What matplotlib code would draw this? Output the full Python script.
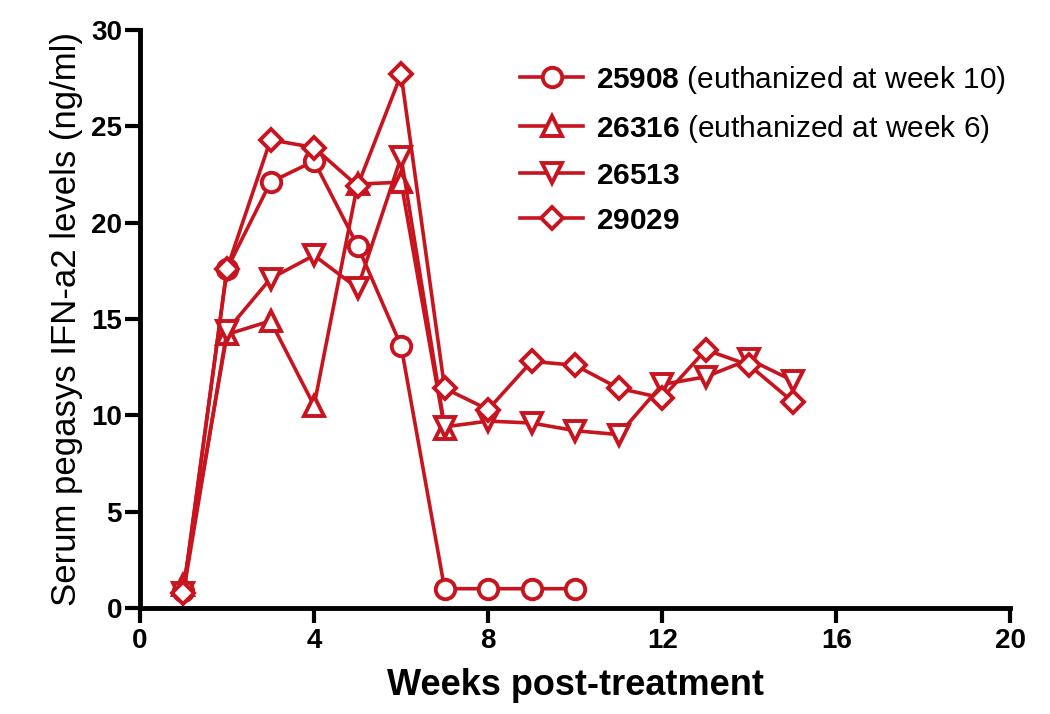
import matplotlib
matplotlib.use("Agg")
import matplotlib.pyplot as plt

plt.rcParams['font.family'] = ['Liberation Sans', 'DejaVu Sans']
plt.rcParams['mathtext.fontset'] = 'custom'
plt.rcParams['mathtext.bf'] = 'Liberation Sans:bold'
plt.rcParams['mathtext.rm'] = 'Liberation Sans'

RED = '#c8141e'

# 各個体の測定週と血中濃度 (ng/ml)
weeks_25908 = [1, 2, 3, 4, 5, 6, 7, 8, 9, 10]
vals_25908 = [0.9, 17.6, 22.1, 23.2, 18.8, 13.6, 1.0, 1.0, 1.0, 1.0]

weeks_26316 = [1, 2, 3, 4, 5, 6, 7]
vals_26316 = [1.2, 14.2, 14.9, 10.5, 22.0, 22.1, 9.3]

weeks_26513 = [1, 2, 3, 4, 5, 6, 7, 8, 9, 10, 11, 12, 13, 14, 15]
vals_26513 = [0.8, 14.4, 17.1, 18.3, 16.6, 23.4, 9.4, 9.7, 9.6, 9.2, 9.0, 11.6, 12.0, 12.9, 11.8]

weeks_29029 = [1, 2, 3, 4, 5, 6, 7, 8, 9, 10, 11, 12, 13, 14, 15]
vals_29029 = [0.8, 17.6, 24.3, 23.9, 21.9, 27.7, 11.4, 10.3, 12.8, 12.6, 11.4, 10.9, 13.4, 12.6, 10.7]

labels = [
    r'$\mathbf{25908}$ (euthanized at week 10)',
    r'$\mathbf{26316}$ (euthanized at week 6)',
    r'$\mathbf{26513}$',
    r'$\mathbf{29029}$',
]

fig = plt.figure(figsize=(10.5, 7.14), dpi=100)
ax = fig.add_axes([0.1333, 0.1485, 0.829, 0.8095])

series = [
    (weeks_25908, vals_25908, 'o'),
    (weeks_26316, vals_26316, '^'),
    (weeks_26513, vals_26513, 'v'),
    (weeks_29029, vals_29029, 'D'),
]
for (wk, v, mk), lab in zip(series, labels):
    ms = 11 if mk == 'D' else 14
    ax.plot(wk, v, color=RED, marker=mk, markersize=ms, markerfacecolor='white',
            markeredgecolor=RED, markeredgewidth=2.8, linewidth=2.6, label=lab,
            clip_on=False)

ax.set_xlim(0, 20)
ax.set_ylim(0, 30)
ax.set_xticks([0, 4, 8, 12, 16, 20])
ax.set_yticks([0, 5, 10, 15, 20, 25, 30])

for s in ['top', 'right']:
    ax.spines[s].set_visible(False)
for s in ['left', 'bottom']:
    ax.spines[s].set_linewidth(3.5)
ax.tick_params(axis='both', direction='out', length=11, width=3, labelsize=20)
ax.tick_params(axis='y', pad=2)
for t in ax.get_xticklabels() + ax.get_yticklabels():
    t.set_fontweight('bold')

ax.set_xlabel('Weeks post-treatment', fontsize=26, fontweight='bold', labelpad=10)
ax.set_ylabel('Serum pegasys IFN-a2 levels (ng/ml)', fontsize=25, labelpad=6)

ax.legend(loc='upper left', bbox_to_anchor=(0.437, 0.942), frameon=False,
          fontsize=21.5, handlelength=2.1, handletextpad=0.45, labelspacing=0.57,
          borderaxespad=0, borderpad=0)

fig.savefig('out.png', dpi=100)
